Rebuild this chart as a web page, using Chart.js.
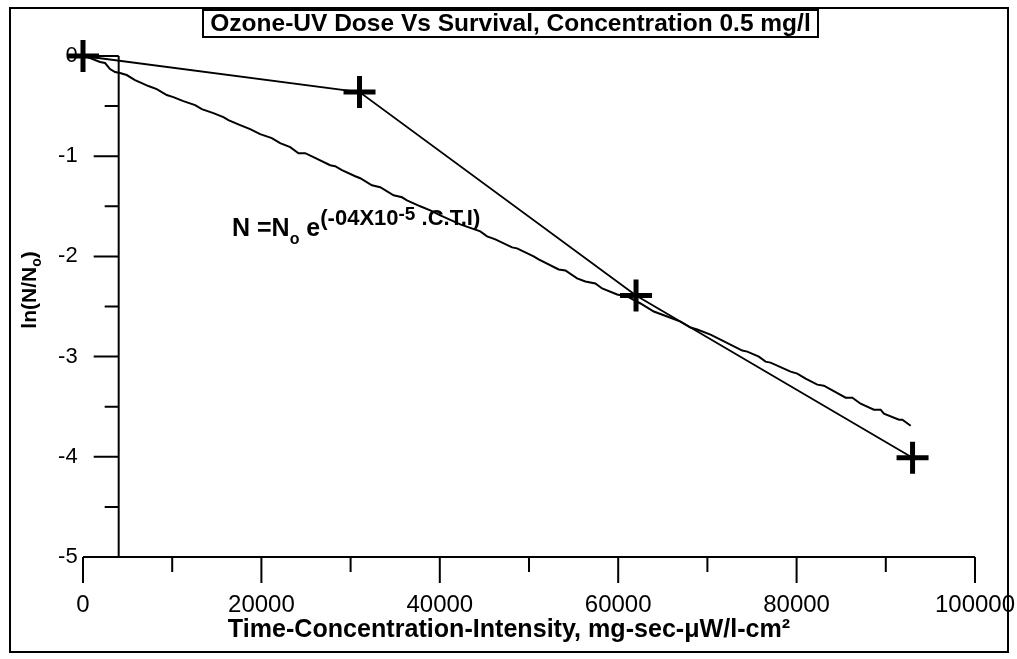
<!DOCTYPE html>
<html>
<head>
<meta charset="utf-8">
<title>Ozone-UV Dose Vs Survival</title>
<script src="https://cdn.jsdelivr.net/npm/chart.js@4.4.0/dist/chart.umd.min.js"></script>
<style>
  html, body { margin: 0; padding: 0; background: #fff; }
</style>
</head>
<body>
<canvas id="doseChart" width="1017" height="659"></canvas>
<script>
// measured points (crosses joined by straight lines)
const measuredDose = [0, 31000, 62000, 93000];
const measuredLnSurvival = [0, -0.36, -2.39, -4.01];

// fitted curve
const curveDose = [0, 790, 1910, 2470, 3030, 3590, 4150, 4900, 5830, 6590, 7330, 8270, 9390, 10130,
  11250, 12570, 13320, 14620, 15740, 16300, 17620, 18740, 19860, 21170, 22100, 23230, 24160, 24910,
  25840, 27710, 28270, 29030, 30520, 31080, 32390, 33320, 34820, 35760, 36320, 37810, 38930, 40060,
  42300, 44540, 45300, 46230, 48100, 48660, 50520, 51080, 53330, 54080, 55390, 56320, 57440, 58200,
  59880, 61000, 62500, 63990, 65490, 66980, 68110, 68860, 70350, 71470, 73910, 74470, 75770, 76520,
  77080, 79330, 80080, 81010, 82320, 83060, 85500, 86250, 87180, 88670, 89420, 89790, 91480, 91860, 92790];
const curveLnSurvival = [0, -0.02, -0.06, -0.07, -0.13, -0.16, -0.17, -0.19, -0.24, -0.27, -0.30, -0.33, -0.39, -0.41,
  -0.45, -0.49, -0.53, -0.57, -0.61, -0.64, -0.69, -0.73, -0.78, -0.82, -0.87, -0.91, -0.97, -0.97,
  -1.01, -1.09, -1.10, -1.14, -1.20, -1.22, -1.29, -1.31, -1.39, -1.41, -1.44, -1.50, -1.54, -1.59,
  -1.68, -1.75, -1.80, -1.83, -1.91, -1.92, -2.00, -2.03, -2.13, -2.14, -2.22, -2.25, -2.27, -2.32,
  -2.38, -2.40, -2.47, -2.55, -2.60, -2.65, -2.71, -2.73, -2.78, -2.83, -2.94, -2.95, -3.00, -3.05,
  -3.06, -3.15, -3.17, -3.22, -3.28, -3.29, -3.41, -3.41, -3.47, -3.53, -3.53, -3.57, -3.63, -3.63, -3.69];

// ticks
const xTickValues = [0, 10000, 20000, 30000, 40000, 50000, 60000, 70000, 80000, 90000, 100000];
const xTickLabels = ['0', '20000', '40000', '60000', '80000', '100000'];
const yTickValues = [0, -0.5, -1, -1.5, -2, -2.5, -3, -3.5, -4, -4.5, -5];
const yTickLabels = ['0', '-1', '-2', '-3', '-4', '-5'];

const chartTitle = 'Ozone-UV Dose Vs Survival, Concentration 0.5 mg/l';
const xTitle = 'Time-Concentration-Intensity, mg-sec-\u03bcW/l-cm\u00b2';
const yAxisAtDose = 4000;   // the vertical axis sits a bit right of x = 0

const FONT = '"Liberation Sans", Arial, sans-serif';

function fitFont(ctx, text, weight, width) {
  ctx.font = weight + ' 20px ' + FONT;
  const size = 20 * width / ctx.measureText(text).width;
  return weight + ' ' + size.toFixed(1) + 'px ' + FONT;
}

const decorPlugin = {
  id: 'decor',
  beforeDatasetsDraw(chart) {
    const ctx = chart.ctx;
    const xs = chart.scales.x, ys = chart.scales.y;
    const axisX = xs.getPixelForValue(yAxisAtDose);
    const axisY = ys.getPixelForValue(-5);
    ctx.save();
    ctx.strokeStyle = '#000';
    ctx.fillStyle = '#000';
    ctx.lineWidth = 2;

    // outer frame
    ctx.strokeRect(10, 8, 998, 644);

    // y axis
    ctx.beginPath();
    ctx.moveTo(axisX, ys.getPixelForValue(0));
    ctx.lineTo(axisX, axisY);
    yTickValues.forEach(v => {
      const py = ys.getPixelForValue(v);
      const len = Number.isInteger(v) ? 25 : 14;
      ctx.moveTo(axisX - len, py);
      ctx.lineTo(axisX, py);
    });
    ctx.stroke();
    ctx.font = '22px ' + FONT;
    ctx.textAlign = 'right';
    ctx.textBaseline = 'middle';
    yTickLabels.forEach(t => {
      ctx.fillText(t, axisX - 41, ys.getPixelForValue(Number(t)));
    });

    // x axis
    ctx.beginPath();
    ctx.moveTo(xs.getPixelForValue(0), axisY);
    ctx.lineTo(xs.getPixelForValue(100000), axisY);
    xTickValues.forEach(v => {
      const px = xs.getPixelForValue(v);
      const len = v % 20000 === 0 ? 26 : 15;
      ctx.moveTo(px, axisY);
      ctx.lineTo(px, axisY + len);
    });
    ctx.stroke();
    ctx.textAlign = 'center';
    ctx.font = '24px ' + FONT;
    xTickLabels.forEach(t => {
      ctx.fillText(t, xs.getPixelForValue(Number(t)), 605);
    });

    // x title
    ctx.font = fitFont(ctx, xTitle, 'bold', 562);
    ctx.fillText(xTitle, 509, 630);

    // y title, rotated
    ctx.save();
    ctx.translate(29, 290);
    ctx.rotate(-Math.PI / 2);
    ctx.font = 'bold 21px ' + FONT;
    const main = 'ln(N/N';
    const w1 = ctx.measureText(main).width;
    ctx.font = 'bold 14px ' + FONT;
    const w2 = ctx.measureText('o').width;
    ctx.font = 'bold 21px ' + FONT;
    const w3 = ctx.measureText(')').width;
    let sx = -(w1 + w2 + w3) / 2;
    ctx.textAlign = 'left';
    ctx.textBaseline = 'alphabetic';
    ctx.fillText(main, sx, 7);
    ctx.font = 'bold 14px ' + FONT;
    ctx.fillText('o', sx + w1, 12);
    ctx.font = 'bold 21px ' + FONT;
    ctx.fillText(')', sx + w1 + w2, 7);
    ctx.restore();

    // title box
    ctx.fillStyle = '#fff';
    ctx.fillRect(203, 10, 615, 27);
    ctx.strokeRect(203, 10, 615, 27);
    ctx.fillStyle = '#000';
    ctx.font = fitFont(ctx, chartTitle, 'bold', 600);
    ctx.textAlign = 'center';
    ctx.textBaseline = 'middle';
    ctx.fillText(chartTitle, 510.5, 24);
    ctx.restore();
  },
  afterDatasetsDraw(chart) {
    // equation label
    const ctx = chart.ctx;
    ctx.save();
    ctx.fillStyle = '#000';
    ctx.textAlign = 'left';
    ctx.textBaseline = 'alphabetic';
    let x = 232;
    const parts = [
      ['N =N', 'bold 25px', 0],
      ['o', 'bold 16px', 8],
      [' e', 'bold 25px', 0],
      ['(-04X10', 'bold 22px', -11],
      ['-5', 'bold 19px', -16],
      [' .C.T.I)', 'bold 22px', -11]
    ];
    parts.forEach(p => {
      ctx.font = p[1] + ' ' + FONT;
      ctx.fillText(p[0], x, 236 + p[2]);
      x += ctx.measureText(p[0]).width;
    });
    ctx.restore();
  }
};

new Chart(document.getElementById('doseChart'), {
  type: 'scatter',
  data: {
    datasets: [
      {
        label: 'Fit',
        data: curveDose.map((d, i) => ({ x: d, y: curveLnSurvival[i] })),
        showLine: true,
        borderColor: '#000',
        borderWidth: 2,
        pointRadius: 0,
        tension: 0
      },
      {
        label: 'Measured',
        data: measuredDose.map((d, i) => ({ x: d, y: measuredLnSurvival[i] })),
        showLine: true,
        borderColor: '#000',
        backgroundColor: '#000',
        borderWidth: 1.8,
        pointStyle: 'cross',
        pointRadius: 16,
        pointBorderWidth: 5,
        pointBorderColor: '#000',
        tension: 0
      }
    ]
  },
  options: {
    responsive: false,
    animation: false,
    devicePixelRatio: 1,
    layout: { padding: { left: 83, right: 42, top: 56, bottom: 102 } },
    plugins: { legend: { display: false }, tooltip: { enabled: false } },
    scales: {
      x: { type: 'linear', min: 0, max: 100000, display: false },
      y: { type: 'linear', min: -5, max: 0, display: false }
    },
    clip: false
  },
  plugins: [decorPlugin]
});
</script>
</body>
</html>
